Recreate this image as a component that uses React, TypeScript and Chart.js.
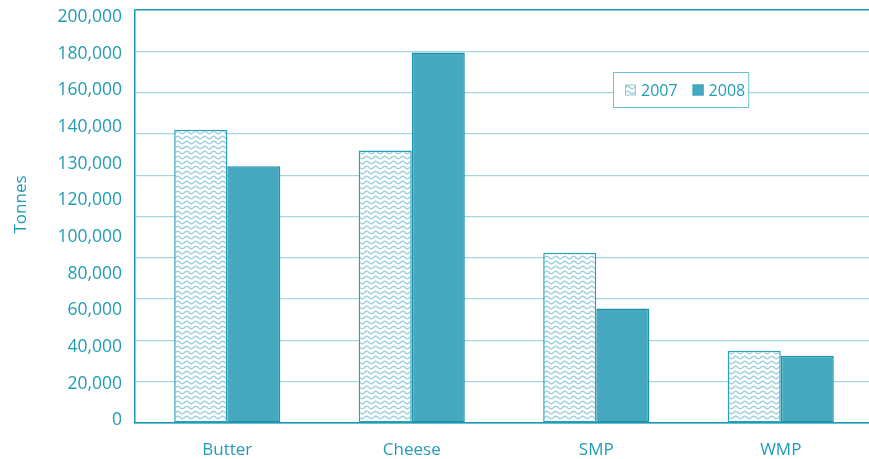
import React, { useEffect, useRef } from "react";
import { Chart, registerables } from "chart.js";

Chart.register(...registerables);

// Product categories and yearly volumes (tonnes)
const categories: string[] = ["Butter", "Cheese", "SMP", "WMP"];
const seriesLabels: string[] = ["2007", "2008"];
const values2007: number[] = [142000, 132000, 82500, 35000];
const values2008: number[] = [124300, 179400, 55500, 32600];

// Printed labels down the value axis
const axisTickLabels: string[] = [
  "0",
  "20,000",
  "40,000",
  "60,000",
  "80,000",
  "100,000",
  "120,000",
  "130,000",
  "140,000",
  "160,000",
  "180,000",
  "200,000",
];

const yMax = 200000;
const yStep = 20000;
const axisTitle = "Tonnes";

const TEXT = "#219cb4";
const AXIS = "#1a98b1";
const GRID = "#a8d6e0";
const FONT = "'Open Sans', 'Noto Sans', sans-serif";

function makeWavePattern(ctx: CanvasRenderingContext2D): CanvasPattern | string {
  const c = document.createElement("canvas");
  c.width = 9;
  c.height = 5;
  const g = c.getContext("2d");
  if (!g) return "#ffffff";
  g.fillStyle = "#ffffff";
  g.fillRect(0, 0, 9, 5);
  g.strokeStyle = "#9fd1dd";
  g.lineWidth = 1.5;
  g.beginPath();
  for (let x = -1; x <= 10; x += 0.25) {
    const y = 2.5 + 1.2 * Math.sin((2 * Math.PI * x) / 9);
    if (x === -1) g.moveTo(x, y);
    else g.lineTo(x, y);
  }
  g.stroke();
  return ctx.createPattern(c, "repeat") || "#ffffff";
}

function makeDotPattern(ctx: CanvasRenderingContext2D): CanvasPattern | string {
  const c = document.createElement("canvas");
  c.width = 4;
  c.height = 4;
  const g = c.getContext("2d");
  if (!g) return "#45a9bf";
  g.fillStyle = "#47aac0";
  g.fillRect(0, 0, 4, 4);
  g.fillStyle = "#3a9db4";
  g.fillRect(0, 0, 1, 1);
  g.fillRect(2, 2, 1, 1);
  return ctx.createPattern(c, "repeat") || "#45a9bf";
}

export default function App() {
  const canvasRef = useRef<HTMLCanvasElement | null>(null);

  useEffect(() => {
    const canvas = canvasRef.current;
    if (!canvas) return;
    const ctx = canvas.getContext("2d");
    if (!ctx) return;

    const wave = makeWavePattern(ctx);
    const dots = makeDotPattern(ctx);
    const fills = [wave, dots];
    const borders = ["#27a1b9", "#1a93ab"];

    // Boxed legend sitting inside the plot, plus the rotated axis title
    const overlay = {
      id: "overlay",
      afterDatasetsDraw(chart: any) {
        const c: CanvasRenderingContext2D = chart.ctx;
        c.save();
        c.font = `16px ${FONT}`;
        const boxX = 613;
        const boxY = 72;
        const boxH = 35;
        const icon = 11;
        const pad = 12;
        const iconGap = 5;
        const itemGap = 15;
        let w = pad;
        const widths = seriesLabels.map((s) => c.measureText(s).width);
        widths.forEach((tw, i) => {
          w += icon + iconGap + tw + (i < widths.length - 1 ? itemGap : 0);
        });
        w += 3;
        c.fillStyle = "#ffffff";
        c.fillRect(boxX, boxY, w, boxH);
        c.strokeStyle = "#6cc2d4";
        c.lineWidth = 1;
        c.strokeRect(boxX + 0.5, boxY + 0.5, w, boxH);
        let x = boxX + pad;
        const cy = boxY + boxH / 2 + 0.5;
        seriesLabels.forEach((s, i) => {
          c.fillStyle = fills[i] as any;
          c.fillRect(x, cy - icon / 2, icon, icon);
          c.strokeStyle = i === 0 ? "#8fcad8" : "#3ea3ba";
          c.strokeRect(x + 0.5, cy - icon / 2 + 0.5, icon - 1, icon - 1);
          x += icon + iconGap;
          c.fillStyle = TEXT;
          c.textAlign = "left";
          c.textBaseline = "middle";
          c.fillText(s, x, cy + 1);
          x += widths[i] + itemGap;
        });
        c.restore();
      },
      afterDraw(chart: any) {
        const c: CanvasRenderingContext2D = chart.ctx;
        c.save();
        c.font = `17px ${FONT}`;
        c.fillStyle = TEXT;
        c.translate(21, 204.5);
        c.rotate(-Math.PI / 2);
        c.textAlign = "center";
        c.textBaseline = "middle";
        c.fillText(axisTitle, 0, 0);
        c.restore();
      },
    };

    const chart = new Chart(canvas, {
      type: "bar",
      data: {
        labels: categories,
        datasets: [
          {
            label: seriesLabels[0],
            data: values2007,
            backgroundColor: wave as any,
            borderColor: borders[0],
            borderWidth: 1.5,
            borderSkipped: false,
            categoryPercentage: 0.575,
            barPercentage: 1,
          },
          {
            label: seriesLabels[1],
            data: values2008,
            backgroundColor: dots as any,
            borderColor: borders[1],
            borderWidth: 1.5,
            borderSkipped: false,
            categoryPercentage: 0.575,
            barPercentage: 1,
          },
        ],
      },
      options: {
        responsive: false,
        animation: false,
        devicePixelRatio: 1,
        layout: { padding: { top: 10, left: 0, right: 0, bottom: 0 } },
        plugins: {
          legend: { display: false },
          tooltip: { enabled: false },
        },
        scales: {
          x: {
            grid: { display: false, drawTicks: false },
            border: { display: true, color: AXIS, width: 1.5 },
            ticks: {
              color: TEXT,
              font: { family: FONT, size: 17 },
              padding: 17,
            },
            afterFit: (scale: any) => {
              scale.height = 36;
              scale.paddingLeft = 0;
              scale.paddingRight = 0;
            },
          },
          y: {
            position: "left",
            weight: 0,
            min: 0,
            max: yMax,
            ticks: { display: false, stepSize: yStep },
            grid: {
              drawTicks: false,
              color: (c: any) =>
                c.tick && (c.tick.value === yMax || c.tick.value === 0) ? AXIS : GRID,
              lineWidth: (c: any) => (c.tick && c.tick.value === yMax ? 1.5 : 1.2),
            },
            border: { display: true, color: AXIS, width: 1.5 },
            afterFit: (scale: any) => {
              scale.width = 0;
              scale.paddingTop = 0;
              scale.paddingBottom = 0;
            },
          },
          yl: {
            type: "linear",
            position: "left",
            weight: 1,
            min: -0.076,
            max: 11.188,
            grid: { display: false, drawTicks: false },
            border: { display: false },
            afterBuildTicks: (scale: any) => {
              scale.ticks = axisTickLabels.map((_, i) => ({ value: i }));
            },
            ticks: {
              color: TEXT,
              font: { family: FONT, size: 17.5, lineHeight: 1 },
              padding: 13,
              callback: (v: any) => axisTickLabels[Math.round(Number(v))] ?? "",
            },
            afterFit: (scale: any) => {
              scale.width = 135;
              scale.paddingTop = 0;
              scale.paddingBottom = 0;
            },
          },
        },
      } as any,
      plugins: [overlay],
    });

    return () => chart.destroy();
  }, []);

  return (
    <div
      style={{
        position: "fixed",
        left: 0,
        top: 0,
        width: 869,
        height: 459,
        overflow: "hidden",
        background: "#ffffff",
      }}
    >
      <canvas ref={canvasRef} width={873} height={459} style={{ width: 873, height: 459, display: "block" }} />
    </div>
  );
}
